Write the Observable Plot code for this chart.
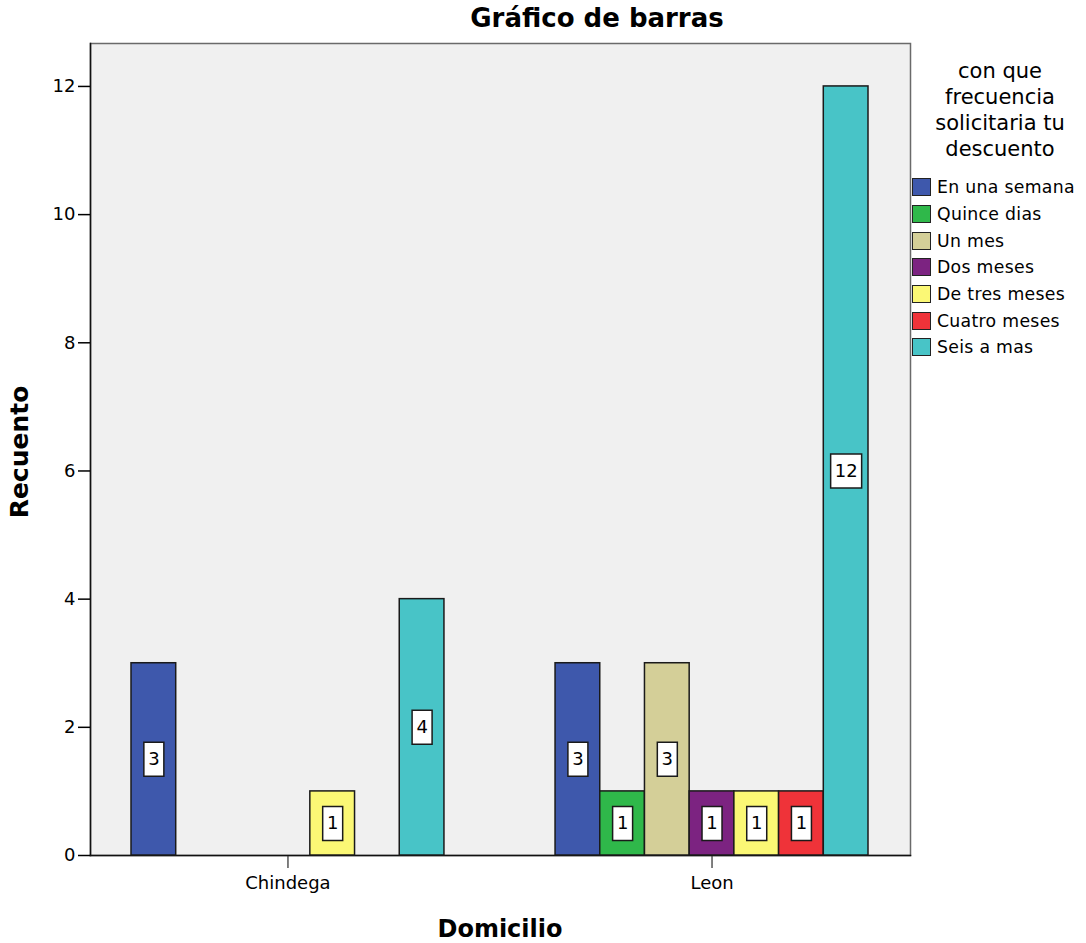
<!DOCTYPE html>
<html>
<head>
<meta charset="utf-8">
<script src="https://cdn.jsdelivr.net/npm/d3@7"></script>
<script src="https://cdn.jsdelivr.net/npm/@observablehq/plot@0.6"></script>
<style>
  body { margin: 0; background: #fff; font-family: "DejaVu Sans", sans-serif; }
  #wrap { position: relative; width: 1086px; height: 943px; }
  #title { position: absolute; left: 397px; width: 400px; top: 2px; text-align: center; font-weight: bold; font-size: 26px; line-height: 32px; }
  #ylab { position: absolute; left: 19px; top: 452px; transform: translate(-50%, -50%) rotate(-90deg); font-weight: bold; font-size: 25px; white-space: nowrap; }
  #xlab { position: absolute; left: 300px; width: 400px; top: 914px; text-align: center; font-weight: bold; font-size: 24px; line-height: 30px; }
  #legend { position: absolute; left: 912px; top: 58px; width: 174px; font-size: 17.3px; }
  #legend .lt { text-align: center; font-size: 21px; line-height: 26px; margin-bottom: 12px; margin-left: 2px; }
  #legend .item { display: flex; align-items: center; height: 26.7px; white-space: nowrap; letter-spacing: 0.3px; }
  #legend .sw { width: 17px; height: 16px; border: 1.5px solid #222; margin-right: 6px; flex: none; }
</style>
</head>
<body>
<div id="wrap">
  <div id="title">Gráfico de barras</div>
  <div id="ylab">Recuento</div>
  <div id="xlab">Domicilio</div>
  <div id="legend"></div>
</div>
<script>
const categories = ["En una semana","Quince dias","Un mes","Dos meses","De tres meses","Cuatro meses","Seis a mas"];
const colors = ["#3e58ac","#2fb84a","#d4cf98","#7c2381","#fbf875","#ef3339","#48c4c7"];
const domicilios = ["Chindega","Leon"];
const chindegaCounts = [3,0,0,0,1,0,4];
const leonCounts = [3,1,3,1,1,1,12];
const yTicks = [0,2,4,6,8,10,12];
const legendTitle = ["con que","frecuencia","solicitaria tu","descuento"];

const counts = {Chindega: chindegaCounts, Leon: leonCounts};
const data = [];
for (const d of domicilios) categories.forEach((c, i) => {
  if (counts[d][i] > 0) data.push({domicilio: d, cat: c, n: counts[d][i], label: String(counts[d][i])});
});

function boxSymbol(w, h) {
  return { draw(ctx) { ctx.rect(-w/2, -h/2, w, h); } };
}

const padL = 41, padR = 42; // outer gap between plot frame and the group bands

const chart = Plot.plot({
  width: 1086, height: 943,
  marginLeft: 131, marginRight: 218, marginTop: 43, marginBottom: 88,
  style: {fontFamily: "'DejaVu Sans', sans-serif", fontSize: "18px", background: "transparent", color: "#000"},
  fx: {domain: domicilios, paddingInner: 0.262, paddingOuter: 0, round: false, label: null, axis: "bottom", tickSize: 13, tickPadding: 8},
  x: {domain: categories, padding: 0, round: false, axis: null},
  y: {domain: [0, 12.67], label: null},
  color: {domain: categories, range: colors},
  marks: [
    Plot.frame({facet: "super", insetLeft: -padL, insetRight: -padR, fill: "#f0f0f0", stroke: "#6a6a6a", strokeWidth: 1.5}),
    Plot.frame({facet: "super", anchor: "left", insetLeft: -padL, stroke: "#111", strokeWidth: 1.5}),
    Plot.frame({facet: "super", anchor: "bottom", insetLeft: -padL, insetRight: -padR, stroke: "#111", strokeWidth: 1.5}),
    Plot.axisY({ticks: yTicks, tickSize: 12, tickPadding: 3, dx: -padL, label: null, strokeWidth: 1.5}),
    Plot.barY(data, {fx: "domicilio", x: "cat", y: "n", fill: "cat", stroke: "#1a1a1a", strokeWidth: 1.5, inset: 0}),
    Plot.dot(data.filter(d => d.label.length === 1), {fx: "domicilio", x: "cat", y: d => d.n / 2, symbol: boxSymbol(20, 34), fill: "#fff", stroke: "#1a1a1a", strokeWidth: 1.5}),
    Plot.dot(data.filter(d => d.label.length > 1), {fx: "domicilio", x: "cat", y: d => d.n / 2, symbol: boxSymbol(31, 34), fill: "#fff", stroke: "#1a1a1a", strokeWidth: 1.5}),
    Plot.text(data, {fx: "domicilio", x: "cat", y: d => d.n / 2, text: "label", fontSize: 18, fill: "#000"})
  ]
});
document.getElementById("wrap").prepend(chart);
chart.style.position = "absolute"; chart.style.left = "0"; chart.style.top = "0";

const leg = document.getElementById("legend");
const lt = document.createElement("div"); lt.className = "lt";
lt.innerHTML = legendTitle.join("<br>");
leg.appendChild(lt);
categories.forEach((c, i) => {
  const it = document.createElement("div"); it.className = "item";
  const sw = document.createElement("div"); sw.className = "sw"; sw.style.background = colors[i];
  const tx = document.createElement("span"); tx.textContent = c;
  it.appendChild(sw); it.appendChild(tx); leg.appendChild(it);
});
</script>
</body>
</html>
